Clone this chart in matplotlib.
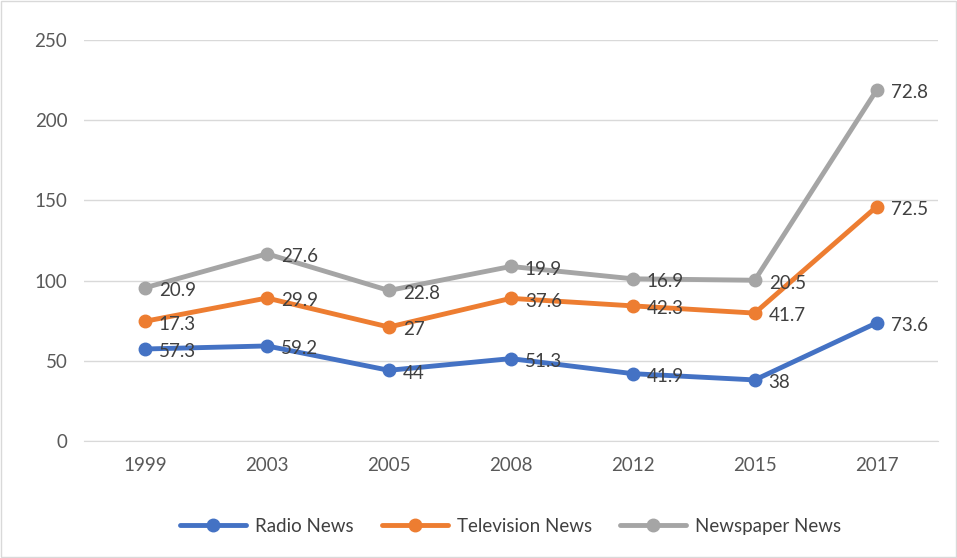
import matplotlib
matplotlib.use("Agg")
import matplotlib.pyplot as plt
import numpy as np

years = ["1999", "2003", "2005", "2008", "2012", "2015", "2017"]
radio = [57.3, 59.2, 44, 51.3, 41.9, 38, 73.6]
television = [17.3, 29.9, 27, 37.6, 42.3, 41.7, 72.5]
newspaper = [20.9, 27.6, 22.8, 19.9, 16.9, 20.5, 72.8]

series = [
    ("Radio News", radio, "#4472C4"),
    ("Television News", television, "#ED7D31"),
    ("Newspaper News", newspaper, "#A5A5A5"),
]

plt.rcParams["font.family"] = ["Lato", "DejaVu Sans"]

fig = plt.figure(figsize=(9.57, 5.58), dpi=100)
ax = fig.add_axes([0.0878, 0.21, 0.892, 0.718])

x = np.arange(len(years))
base = np.zeros(len(years))
for name, vals, color in series:
    top = base + np.array(vals)
    ax.plot(x, top, color=color, lw=3.5, marker="o", ms=9, label=name,
            solid_capstyle="round", zorder=3)
    for xi, yi, v in zip(x, top, vals):
        ax.annotate(f"{v:g}", (xi, yi), xytext=(10, -2), textcoords="offset points",
                    ha="left", va="center", fontsize=13.5, color="#404040", zorder=4)
    base = top

ax.set_xlim(-0.5, len(years) - 0.5)
ax.set_ylim(0, 250)
ax.set_yticks(range(0, 251, 50))
ax.set_xticks(x)
ax.set_xticklabels(years)
ax.tick_params(axis="both", length=0, labelsize=13.5, colors="#595959", pad=12)
ax.grid(axis="y", color="#D9D9D9", lw=1)
ax.set_axisbelow(True)
for s in ["top", "right", "left"]:
    ax.spines[s].set_visible(False)
ax.spines["bottom"].set_color("#D9D9D9")

ax.legend(loc="upper center", bbox_to_anchor=(0.5, -0.15), ncol=3, frameon=False,
          fontsize=13.5, handlelength=3.5, handletextpad=0.5, columnspacing=1.5,
          labelcolor="#404040")

fig.patches.append(plt.Rectangle((0.001, 0.001), 0.998, 0.998, transform=fig.transFigure,
                                 fill=False, edgecolor="#D9D9D9", lw=1))

fig.savefig("out.png", dpi=100)
